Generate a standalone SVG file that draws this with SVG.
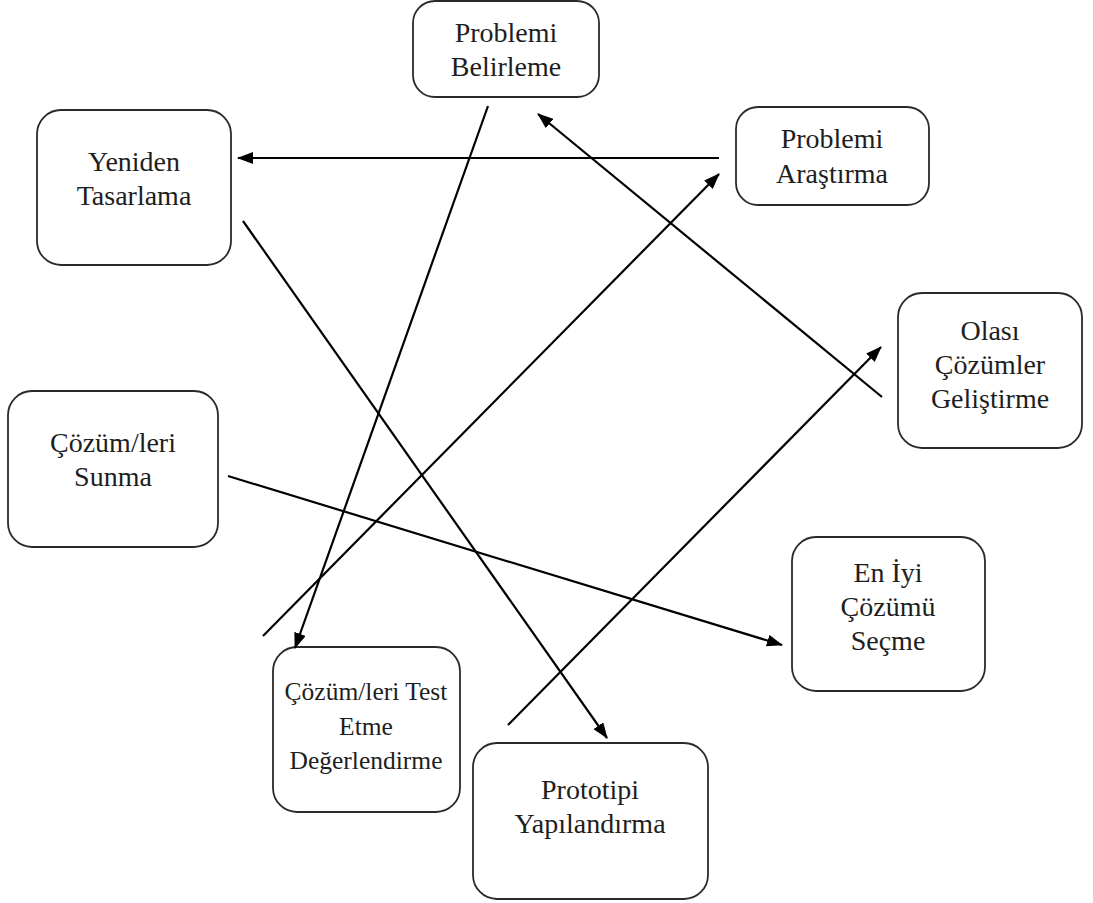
<svg xmlns="http://www.w3.org/2000/svg" width="1093" height="903" viewBox="0 0 1093 903">
<defs>
<marker id="ah" markerUnits="userSpaceOnUse" markerWidth="16" markerHeight="12" refX="15" refY="6" orient="auto">
<path d="M0,0 L16,6 L0,12 Z" fill="#000"/>
</marker>
<style>
.box{fill:#fff;stroke:#2a2a2a;stroke-width:1.8}
.lbl{font-family:"Liberation Serif","Times New Roman",serif;font-size:28px;fill:#1e1e1e;text-anchor:middle}
.sm{font-size:25.5px}
.edge{stroke:#000;stroke-width:2.2;fill:none;marker-end:url(#ah)}
</style>
</defs>
<rect width="1093" height="903" fill="#fff"/>
<g id="n-problemi-belirleme">
<rect class="box" x="413" y="1" width="186" height="96" rx="22"/>
<text class="lbl" x="506" y="42">Problemi</text>
<text class="lbl" x="506" y="76">Belirleme</text>
</g>
<g id="n-yeniden-tasarlama">
<rect class="box" x="37" y="110" width="194" height="155" rx="24"/>
<text class="lbl" x="134" y="171">Yeniden</text>
<text class="lbl" x="134" y="205">Tasarlama</text>
</g>
<g id="n-problemi-arastirma">
<rect class="box" x="736" y="107" width="193" height="98" rx="22"/>
<text class="lbl" x="832" y="148">Problemi</text>
<text class="lbl" x="832" y="183">Araştırma</text>
</g>
<g id="n-olasi-cozumler">
<rect class="box" x="898" y="293" width="184" height="155" rx="24"/>
<text class="lbl" x="990" y="340">Olası</text>
<text class="lbl" x="990" y="374">Çözümler</text>
<text class="lbl" x="990" y="408">Geliştirme</text>
</g>
<g id="n-cozumleri-sunma">
<rect class="box" x="8" y="391" width="210" height="156" rx="24"/>
<text class="lbl" x="113" y="452">Çözüm/leri</text>
<text class="lbl" x="113" y="486">Sunma</text>
</g>
<g id="n-en-iyi">
<rect class="box" x="792" y="537" width="193" height="154" rx="24"/>
<text class="lbl" x="888" y="582">En İyi</text>
<text class="lbl" x="888" y="616">Çözümü</text>
<text class="lbl" x="888" y="650">Seçme</text>
</g>
<g id="n-test-etme">
<rect class="box" x="273" y="647" width="187" height="165" rx="24"/>
<text class="lbl sm" x="366" y="700">Çözüm/leri Test</text>
<text class="lbl sm" x="366" y="735">Etme</text>
<text class="lbl sm" x="366" y="769">Değerlendirme</text>
</g>
<g id="n-prototipi">
<rect class="box" x="473" y="743" width="235" height="156" rx="24"/>
<text class="lbl" x="590" y="799">Prototipi</text>
<text class="lbl" x="590" y="833">Yapılandırma</text>
</g>
<g id="connectors">
<line class="edge" x1="719" y1="158" x2="238" y2="158"/>
<line class="edge" x1="882" y1="397" x2="538" y2="114"/>
<line class="edge" x1="263" y1="636" x2="719" y2="174"/>
<line class="edge" x1="488" y1="106" x2="295" y2="648"/>
<line class="edge" x1="243" y1="221" x2="607" y2="738"/>
<line class="edge" x1="228" y1="476" x2="782" y2="645"/>
<line class="edge" x1="508" y1="725" x2="881" y2="347"/>
</g>
</svg>
